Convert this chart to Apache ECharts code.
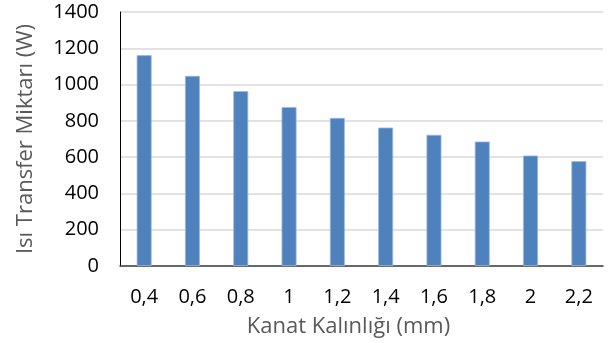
<!DOCTYPE html>
<html><head><meta charset="utf-8">
<script src="https://cdn.jsdelivr.net/npm/echarts@6/dist/echarts.min.js"></script>
<style>html,body{margin:0;padding:0;background:#fff}#c{width:615px;height:343px}</style>
</head><body><div id="c"></div>
<script>
const categories = ['0,4','0,6','0,8','1','1,2','1,4','1,6','1,8','2','2,2'];
const values = [1162, 1048, 964, 876, 816, 763, 723, 686, 609, 578];
const yTitle = 'Isı Transfer Miktarı (W)';
const xTitle = 'Kanat Kalınlığı (mm)';
const FONT = 'Open Sans';
const chart = echarts.init(document.getElementById('c'), null, {renderer:'canvas'});
chart.setOption({
  animation:false,
  grid:{left:120, right:12, top:12, bottom:76},
  xAxis:{
    type:'category', data:categories,
    name:xTitle, nameLocation:'middle', nameGap:50,
    nameTextStyle:{fontFamily:FONT, fontSize:22, color:'#595959', padding:[0,26,0,0]},
    axisLine:{lineStyle:{color:'#404040', width:1.5}},
    axisTick:{show:false},
    axisLabel:{fontFamily:FONT, fontSize:20, color:'#000', margin:21}
  },
  yAxis:{
    type:'value', min:0, max:1400, interval:200,
    name:yTitle, nameLocation:'middle', nameGap:83,
    nameTextStyle:{fontFamily:FONT, fontSize:22, color:'#595959'},
    axisLine:{show:true, lineStyle:{color:'#000', width:1}},
    axisTick:{show:false},
    axisLabel:{fontFamily:FONT, fontSize:20, color:'#000', margin:21, formatter:v=>String(v)},
    splitLine:{lineStyle:{color:'#d9d9d9', width:1.5}}
  },
  series:[{
    type:'bar', data:values, barWidth:'31%',
    itemStyle:{color:'#4F81BD', borderColor:'#9DB9DE', borderWidth:0.8}
  }]
});
</script></body></html>
